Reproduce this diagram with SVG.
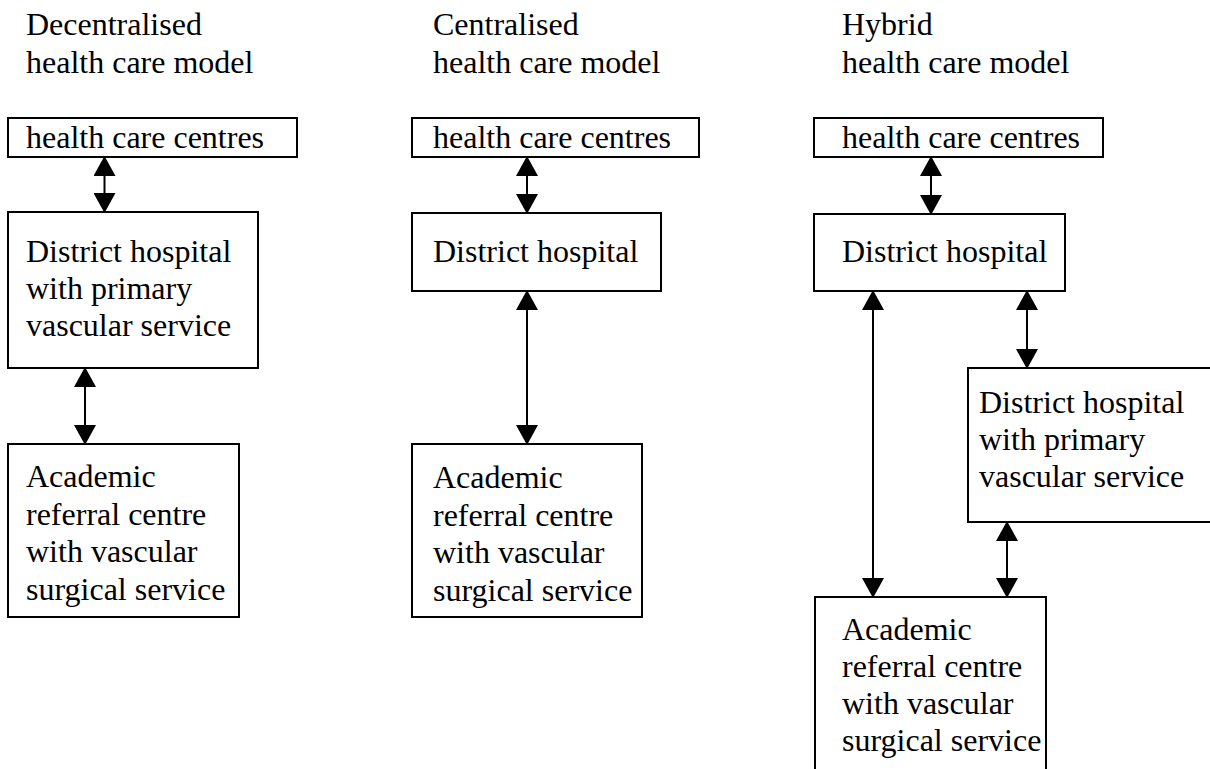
<svg xmlns="http://www.w3.org/2000/svg" width="1210" height="769" viewBox="0 0 1210 769">
<style>
.t{font-size:32px;fill:#000}
.box{fill:#fff;stroke:#000;stroke-width:2}
.conn{stroke:#000;stroke-width:2;fill:none;marker-start:url(#ah);marker-end:url(#ah)}
</style>
<defs>
<marker id="ah" markerUnits="userSpaceOnUse" markerWidth="20" markerHeight="22" viewBox="0 0 20 22" refX="9" refY="11" orient="auto-start-reverse">
<path d="M0,0 L20,11 L0,22 z" fill="#000"/>
</marker>
</defs>
<rect width="1210" height="769" fill="#fff"/>
<g font-family="'Liberation Serif', Tinos, 'DejaVu Serif', serif" class="t">
<g id="titles">
<text x="26" y="35">Decentralised</text>
<text x="26" y="73">health care model</text>
<text x="433" y="35">Centralised</text>
<text x="433" y="73">health care model</text>
<text x="842" y="35">Hybrid</text>
<text x="842" y="73">health care model</text>
</g>
<g id="d-hcc"><rect class="box" x="8" y="118" width="289" height="39"/><text x="26" y="148">health care centres</text></g>
<g id="d-dh"><rect class="box" x="8" y="212" width="250" height="156"/><text x="26" y="262">District hospital</text><text x="26" y="299">with primary</text><text x="26" y="336">vascular service</text></g>
<g id="d-arc"><rect class="box" x="8" y="444" width="231" height="173"/><text x="26" y="487">Academic</text><text x="26" y="525">referral centre</text><text x="26" y="562">with vascular</text><text x="26" y="600">surgical service</text></g>
<g id="c-hcc"><rect class="box" x="412" y="118" width="287" height="39"/><text x="433" y="148">health care centres</text></g>
<g id="c-dh"><rect class="box" x="412" y="213" width="249" height="78"/><text x="433" y="262">District hospital</text></g>
<g id="c-arc"><rect class="box" x="412" y="444" width="230" height="173"/><text x="433" y="488">Academic</text><text x="433" y="526">referral centre</text><text x="433" y="563">with vascular</text><text x="433" y="601">surgical service</text></g>
<g id="h-hcc"><rect class="box" x="814" y="118" width="289" height="39"/><text x="842" y="148">health care centres</text></g>
<g id="h-dh"><rect class="box" x="814" y="214" width="251" height="77"/><text x="842" y="262">District hospital</text></g>
<g id="h-dhp"><rect class="box" x="968" y="368" width="260" height="154"/><text x="979" y="413">District hospital</text><text x="979" y="450">with primary</text><text x="979" y="487">vascular service</text></g>
<g id="h-arc"><rect class="box" x="815" y="597" width="231" height="200"/><text x="842" y="640">Academic</text><text x="842" y="677">referral centre</text><text x="842" y="714">with vascular</text><text x="842" y="751">surgical service</text></g>
</g>
<g id="connectors">
<line class="conn" x1="104.5" y1="167" x2="104.5" y2="202"/>
<line class="conn" x1="85" y1="378" x2="85" y2="434"/>
<line class="conn" x1="527" y1="167" x2="527" y2="203"/>
<line class="conn" x1="527" y1="301" x2="527" y2="434"/>
<line class="conn" x1="931" y1="167" x2="931" y2="204"/>
<line class="conn" x1="873" y1="301" x2="873" y2="587"/>
<line class="conn" x1="1027" y1="301" x2="1027" y2="358"/>
<line class="conn" x1="1007" y1="532" x2="1007" y2="587"/>
</g>
</svg>
